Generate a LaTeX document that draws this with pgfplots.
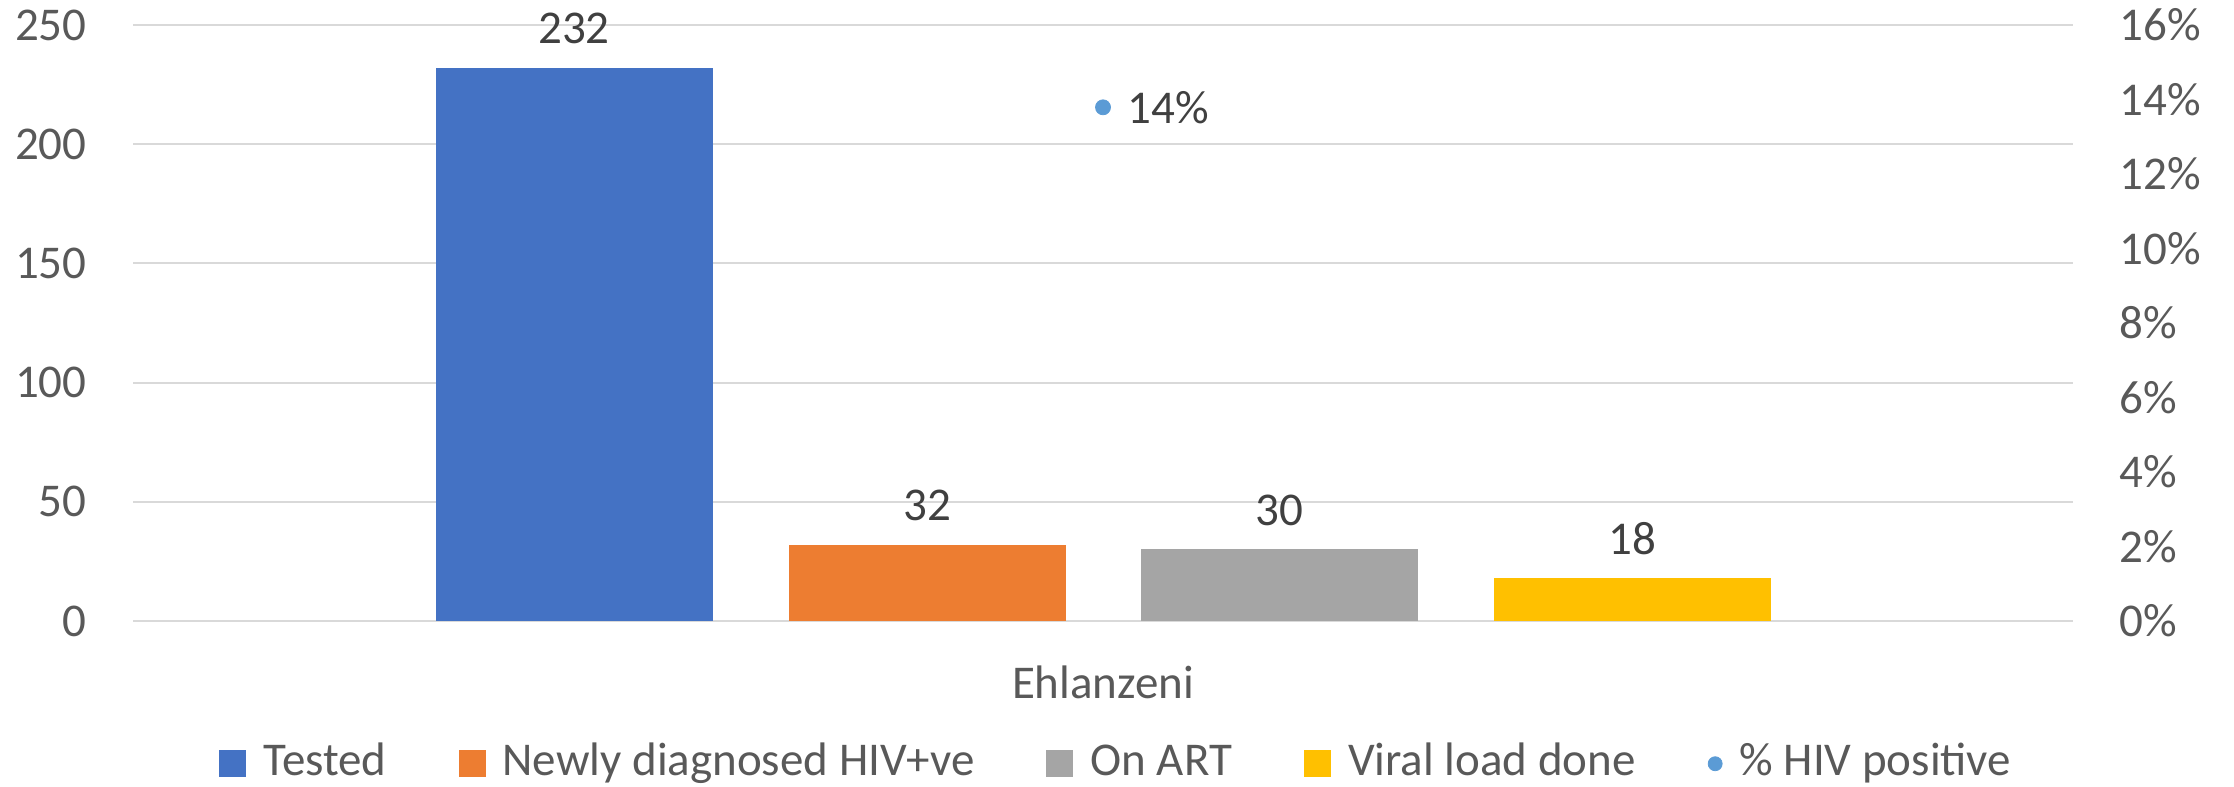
\documentclass[border=0pt]{standalone}
\usepackage{fontspec}
\setmainfont{Carlito}
\usepackage{pgfplots}
\pgfplotsset{compat=1.18}
\definecolor{cT}{HTML}{4472C4}
\definecolor{cN}{HTML}{ED7D31}
\definecolor{cA}{HTML}{A5A5A5}
\definecolor{cV}{HTML}{FFC000}
\definecolor{cP}{HTML}{5B9BD5}
\definecolor{tk}{HTML}{595959}
\definecolor{lb}{HTML}{404040}
\definecolor{gr}{HTML}{D9D9D9}
\newcommand\cf{\fontsize{23.5}{28}\selectfont}
\begin{document}
\begin{tikzpicture}
\path[use as bounding box] (0,0) rectangle (1117pt,393.5pt);
\begin{axis}[
  at={(66.5pt,83pt)}, anchor=south west,
  scale only axis, width=970pt, height=298pt,
  xmin=0.5, xmax=1.5, ymin=0, ymax=250,
  xtick={1}, xticklabels={Ehlanzeni},
  ytick={0,50,100,150,200,250},
  ymajorgrids, grid style={gr, line width=1pt},
  axis line style={draw=none},
  major tick length=0pt,
  tick label style={font=\cf, text=tk, inner sep=0pt},
  /pgf/number format/assume math mode=true,
  yticklabel style={anchor=east, xshift=-23pt},
  xticklabel style={anchor=north, yshift=-22pt},
  ybar, bar width=138.5pt,
  nodes near coords,
  every node near coord/.append style={font=\cf, text=lb, anchor=base, inner sep=0pt, yshift=12pt},
  legend columns=5,
  legend style={at={(0.0443,-0.1975)}, anchor=north west, draw=none, fill=none, inner sep=0pt, font=\cf, text=tk,
    cells={anchor=base west, inner sep=0pt},
    /tikz/every odd column/.append style={column sep=6.5pt},
    /tikz/every even column/.append style={column sep=34pt}},
  legend image code/.code={\fill[#1] (0pt,-0.5pt) rectangle (13.5pt,13pt);},
]
\addplot[fill=cT, draw=none, bar shift=-264.5pt] coordinates {(1,232)};
\addplot[fill=cN, draw=none, bar shift=-88pt] coordinates {(1,32)};
\addplot[fill=cA, draw=none, bar shift=88pt] coordinates {(1,30)};
\addplot[fill=cV, draw=none, bar shift=264.5pt] coordinates {(1,18)};
\addlegendimage{legend image code/.code={\fill[cP] (6.75pt,6pt) circle (3.5pt);}}
\legend{Tested, Newly diagnosed HIV+ve, On ART, Viral load done, \% HIV positive}
\end{axis}
\begin{axis}[
  at={(66.5pt,83pt)}, anchor=south west,
  scale only axis, width=970pt, height=298pt,
  xmin=0.5, xmax=1.5, ymin=0, ymax=0.16,
  axis x line=none, axis y line*=right, axis line style={draw=none},
  ytick={0,0.02,0.04,0.06,0.08,0.1,0.12,0.14,0.16},
  yticklabels={0\%,2\%,4\%,6\%,8\%,10\%,12\%,14\%,16\%},
  major tick length=0pt,
  tick label style={font=\cf, text=tk, inner sep=0pt},
  yticklabel style={anchor=west, xshift=23pt},
  clip=false,
]
\addplot[only marks, mark=*, mark size=3.75pt, color=cP, point meta=explicit symbolic, nodes near coords,
  every node near coord/.append style={anchor=west, xshift=12pt, font=\cf, text=lb, inner sep=0pt}]
  coordinates {(1,0.1379) [14\%]};
\end{axis}
\end{tikzpicture}
\end{document}
